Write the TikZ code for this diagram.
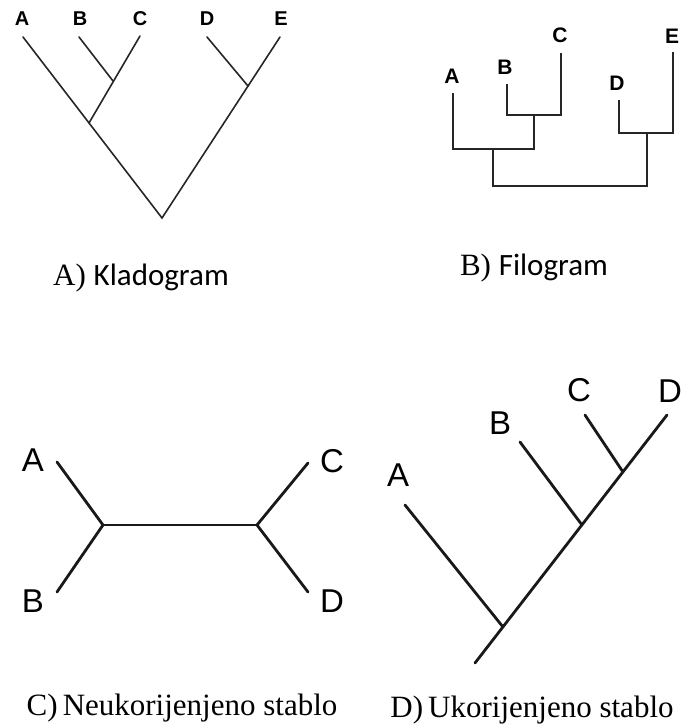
\documentclass[tikz,border=0pt]{standalone}
\usepackage{fontspec}
\setmainfont{Liberation Serif}
\setsansfont{Liberation Sans}
\newfontfamily\calibri{Carlito}
\usetikzlibrary{positioning}

\tikzset{
  taxsmall/.style={font=\sffamily\bfseries\fontsize{20}{20}\selectfont, inner sep=0pt},
  taxmid/.style={font=\sffamily\bfseries\fontsize{21}{21}\selectfont, inner sep=0pt},
  taxbig/.style={font=\sffamily\fontsize{33}{33}\selectfont, inner sep=0pt},
  branchA/.style={line width=1.6pt, black!85, line cap=round},
  branchB/.style={line width=2pt, black!85},
  branchC/.style={line width=2.8pt, black!90, line cap=round},
  panelcap/.style={anchor=base, inner sep=0pt, font=\fontsize{31}{31}\selectfont}
}

\begin{document}
\begin{tikzpicture}[x=1pt, y=-1pt]
  \useasboundingbox (0,0) rectangle (684,725);

  % A) Kladogram
  \coordinate (ka) at (23,37);
  \coordinate (kb) at (79,37);
  \coordinate (kc) at (140,36);
  \coordinate (kd) at (207,37);
  \coordinate (ke) at (280,37);
  \coordinate (kbc) at (113,81);
  \coordinate (kabc) at (89,123);
  \coordinate (kde) at (248,86);
  \coordinate (kroot) at (162,218);
  \node[taxsmall] (kla) at (22,19) {A};
  \node[taxsmall] (klb) at (80,19) {B};
  \node[taxsmall] (klc) at (140,19) {C};
  \node[taxsmall] (kld) at (207,19) {D};
  \node[taxsmall] (kle) at (281,19) {E};
  \draw[branchA] (ka) -- (kroot) -- (ke);
  \draw[branchA] (kb) -- (kbc);
  \draw[branchA] (kc) -- (kabc);
  \draw[branchA] (kd) -- (kde);
  \node[panelcap] (capa) at (141,285) {A) {\calibri Kladogram}};

  % B) Filogram
  \coordinate (fa) at (453,93);
  \coordinate (fb) at (507,84);
  \coordinate (fc) at (561,53);
  \coordinate (fd) at (619,100);
  \coordinate (fe) at (673,52);
  \coordinate (fbc) at (534,115);
  \coordinate (fabc) at (493,149);
  \coordinate (fde) at (647,133);
  \coordinate (froot) at (493,186);
  \node[taxmid] (fla) at (452,76) {A};
  \node[taxmid] (flb) at (505,67) {B};
  \node[taxmid] (flc) at (560,35) {C};
  \node[taxmid] (fld) at (617,83) {D};
  \node[taxmid] (fle) at (672,36) {E};
  \draw[branchB] (fb) |- (fbc) -| (fc);
  \draw[branchB] (fa) |- (fabc);
  \draw[branchB] (fbc) |- (fabc);
  \draw[branchB] (fd) |- (fde) -| (fe);
  \draw[branchB] (fabc) -- (froot) -| (fde);
  \node[panelcap] (capb) at (534,275) {B) {\calibri Filogram}};

  % C) Neukorijenjeno stablo
  \coordinate (ua) at (57,462);
  \coordinate (ub) at (57,592);
  \coordinate (uc) at (308,463);
  \coordinate (ud) at (308,592);
  \coordinate (ul) at (103,525);
  \coordinate (ur) at (257,525);
  \node[taxbig] (ula) at (33,460) {A};
  \node[taxbig] (ulb) at (33,601) {B};
  \node[taxbig] (ulc) at (332,461) {C};
  \node[taxbig] (uld) at (332,601) {D};
  \draw[branchC] (ua) -- (ul) -- (ub);
  \draw[branchC] (ul) -- (ur);
  \draw[branchC] (uc) -- (ur) -- (ud);
  \node[panelcap] (capc) at (182,715) {C)\,Neukorijenjeno stablo};

  % D) Ukorijenjeno stablo
  \coordinate (ra) at (405,505);
  \coordinate (rb) at (520,442);
  \coordinate (rc) at (585,415);
  \coordinate (rd) at (667,415);
  \coordinate (rna) at (503,627);
  \coordinate (rnb) at (582,525);
  \coordinate (rnc) at (623,472);
  \coordinate (rroot) at (475,663);
  \node[taxbig] (rla) at (398,475) {A};
  \node[taxbig] (rlb) at (500,423) {B};
  \node[taxbig] (rlc) at (579,390) {C};
  \node[taxbig] (rld) at (670,391) {D};
  \draw[branchC] (rroot) -- (rd);
  \draw[branchC] (ra) -- (rna);
  \draw[branchC] (rb) -- (rnb);
  \draw[branchC] (rc) -- (rnc);
  \node[panelcap] (capd) at (532,717) {D)\,Ukorijenjeno stablo};
\end{tikzpicture}
\end{document}
